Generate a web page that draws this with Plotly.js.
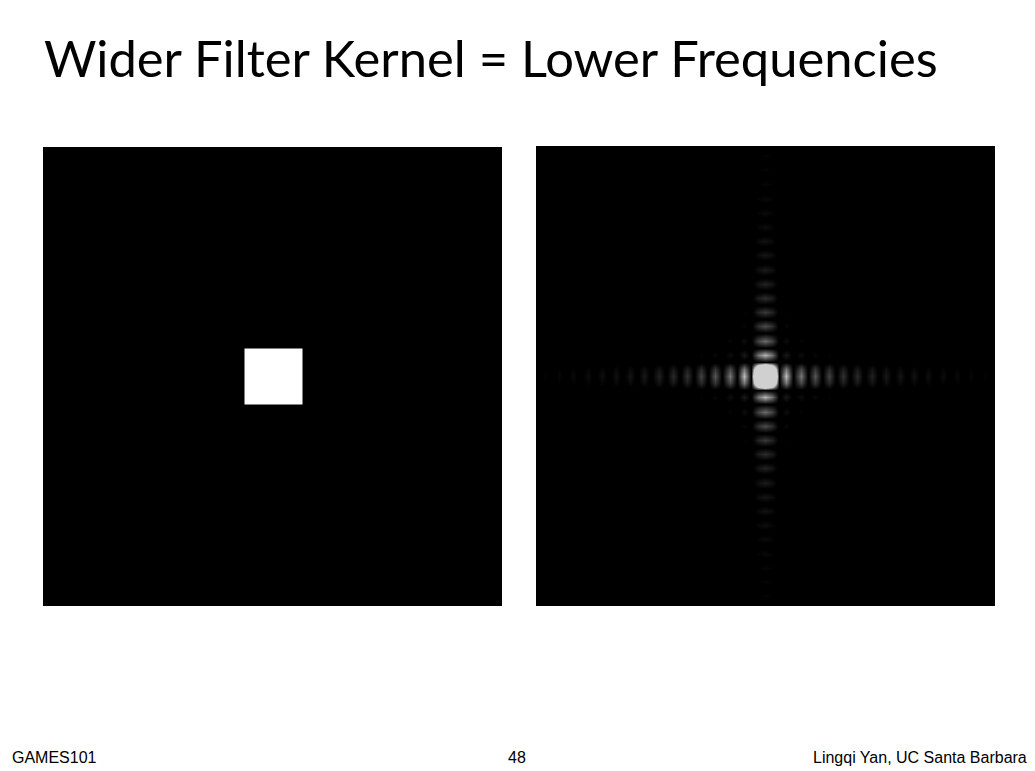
<!DOCTYPE html>
<html><head><meta charset="utf-8">
<script src="https://cdn.plot.ly/plotly-3.0.1.min.js"></script>
<style>html,body{margin:0;padding:0;background:#fff;}#chart{width:1035px;height:771px;}</style>
</head><body><div id="chart"></div>
<script>
// ---- data ----
const titleText = "Wider Filter Kernel = Lower Frequencies";
const footerLeft = "GAMES101";
const footerCenter = "48";
const footerRight = "Lingqi Yan, UC Santa Barbara";

// Left panel: box filter (bin edges in px from panel centre, value inside)
const boxEdgesX = [-230, -28, 30, 230];
const boxEdgesY = [-230, -28, 28, 230];
const boxValues = [[0, 0, 0], [0, 1, 0], [0, 0, 0]];

// Right panel: spectrum, brightness of on-axis side lobes k = 1..15 (fraction of max)
const hLobes = [0.91, 0.58, 0.43, 0.34, 0.26, 0.22, 0.18, 0.14, 0.12, 0.105, 0.09, 0.08, 0.07, 0.06, 0.05];
const vLobes = [0.87, 0.53, 0.38, 0.29, 0.24, 0.19, 0.15, 0.13, 0.11, 0.09, 0.08, 0.07, 0.06, 0.05, 0.05];
const mainLobeHalf = 0.64;   // relative amplitude half-way to the first null
const displayGain = 5.5;     // display stretch (centre is clipped)

// ---- build the spectrum table ----
const step = 7.1; // px between samples (half the null spacing)
function profile(lobes) {
  const half = [1, mainLobeHalf];
  lobes.forEach(b => { half.push(0); half.push(b / displayGain); });
  half.push(0);
  const full = half.slice(1).reverse().concat(half);
  const n0 = half.length - 1;
  const pos = full.map((_, i) => (i - n0) * step);
  return {amp: full, pos: pos};
}
const ph = profile(hLobes), pv = profile(vLobes);
const specZ = pv.amp.map(av => ph.amp.map(ah => displayGain * av * ah));

const axisBase = {showgrid: false, zeroline: false, showticklabels: false, ticks: '', showline: false, fixedrange: true};
const W = 1035, H = 771;

const data = [
  {type: 'heatmap', x: boxEdgesX, y: boxEdgesY, z: boxValues, xaxis: 'x', yaxis: 'y',
   colorscale: [[0, 'rgb(0,0,0)'], [1, 'rgb(255,255,255)']], zmin: 0, zmax: 1,
   showscale: false, hoverinfo: 'skip'},
  {type: 'heatmap', x: ph.pos, y: pv.pos, z: specZ, xaxis: 'x2', yaxis: 'y2',
   colorscale: [[0, 'rgb(0,0,0)'], [0.03, 'rgb(0,0,0)'], [1, 'rgb(208,208,208)']], zmin: 0, zmax: 1,
   zsmooth: 'best', showscale: false, hoverinfo: 'skip'}
];

const layout = {
  width: W, height: H, margin: {l: 0, r: 0, t: 0, b: 0},
  paper_bgcolor: '#ffffff', plot_bgcolor: '#000000', showlegend: false,
  xaxis: Object.assign({}, axisBase, {domain: [43 / W, 502 / W], range: [-229.5, 229.5]}),
  yaxis: Object.assign({}, axisBase, {domain: [1 - 606 / H, 1 - 147 / H], range: [-229.5, 229.5]}),
  xaxis2: Object.assign({}, axisBase, {domain: [536 / W, 995 / W], range: [-229, 230]}),
  yaxis2: Object.assign({}, axisBase, {domain: [1 - 606 / H, 1 - 146 / H], range: [-230, 230]}),
  annotations: [
    {text: titleText, xref: 'paper', yref: 'paper', x: 42 / W, y: 1 - 25 / H, xanchor: 'left', yanchor: 'top',
     showarrow: false, font: {family: 'Lato, sans-serif', size: 50.7, color: '#000'}},
    {text: footerLeft, xref: 'paper', yref: 'paper', x: 10 / W, y: 1 - 757 / H, xanchor: 'left', yanchor: 'middle',
     showarrow: false, font: {family: 'Liberation Sans, Arial, sans-serif', size: 16, color: '#000'}},
    {text: footerCenter, xref: 'paper', yref: 'paper', x: 517 / W, y: 1 - 757 / H, xanchor: 'center', yanchor: 'middle',
     showarrow: false, font: {family: 'Liberation Sans, Arial, sans-serif', size: 16, color: '#000'}},
    {text: footerRight, xref: 'paper', yref: 'paper', x: 1029 / W, y: 1 - 757 / H, xanchor: 'right', yanchor: 'middle',
     showarrow: false, font: {family: 'Liberation Sans, Arial, sans-serif', size: 16, color: '#000'}}
  ]
};
Plotly.newPlot('chart', data, layout, {displayModeBar: false, staticPlot: true});
</script></body></html>
